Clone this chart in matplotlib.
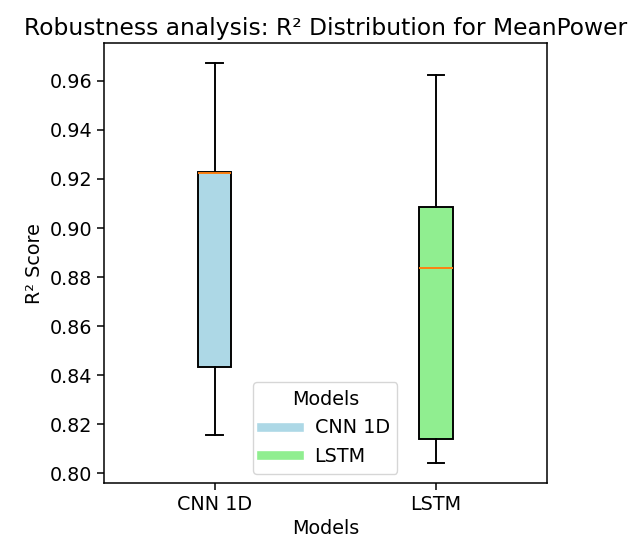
import matplotlib
matplotlib.use("Agg")
import matplotlib.pyplot as plt
from matplotlib.lines import Line2D

# valores
models = ["CNN 1D", "LSTM"]
whislo = [0.8157, 0.8041]
q1 = [0.8432, 0.8141]
med = [0.9225, 0.8838]
q3 = [0.9229, 0.9084]
whishi = [0.9671, 0.9624]
colors = ["lightblue", "lightgreen"]

s = 1.38
plt.rcParams["font.size"] = 10 * s
plt.rcParams["lines.linewidth"] = 1.0 * s
plt.rcParams["axes.linewidth"] = 0.8 * s
plt.rcParams["xtick.major.width"] = 0.8 * s
plt.rcParams["ytick.major.width"] = 0.8 * s
plt.rcParams["xtick.major.size"] = 3.5 * s
plt.rcParams["ytick.major.size"] = 3.5 * s

stats = []
for i in range(len(models)):
    stats.append({"label": models[i], "whislo": whislo[i], "q1": q1[i],
                  "med": med[i], "q3": q3[i], "whishi": whishi[i], "fliers": []})

fig = plt.figure(figsize=(6.41, 5.43), dpi=100)
ax = fig.add_axes([0.162, 0.110, 0.691, 0.810])

bp = ax.bxp(stats, patch_artist=True, widths=0.15,
            boxprops=dict(linewidth=1.0 * s),
            medianprops=dict(color="#ff7f0e", linewidth=1.0 * s),
            whiskerprops=dict(linewidth=1.0 * s),
            capprops=dict(linewidth=1.0 * s))
for patch, c in zip(bp["boxes"], colors):
    patch.set_facecolor(c)

ax.set_title("Robustness analysis: R² Distribution for MeanPower", fontsize=16.8)
ax.set_xlabel("Models")
ax.set_ylabel("R² Score")

handles = [Line2D([0], [0], color=c, lw=4.5 * s) for c in colors]
ax.legend(handles, models, title="Models", loc="lower center")

plt.savefig("out.png", dpi=100)
